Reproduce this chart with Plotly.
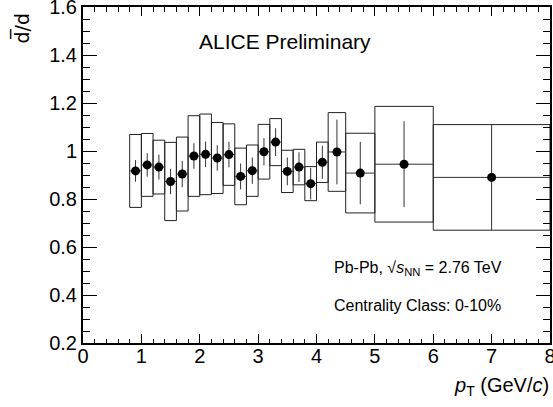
import plotly.graph_objects as go

# Bin edges (GeV/c)
pt_low = [0.8, 1.0, 1.2, 1.4, 1.6, 1.8, 2.0, 2.2, 2.4, 2.6, 2.8, 3.0, 3.2, 3.4, 3.6, 3.8, 4.0, 4.2, 4.5, 5.0, 6.0]
pt_high = [1.0, 1.2, 1.4, 1.6, 1.8, 2.0, 2.2, 2.4, 2.6, 2.8, 3.0, 3.2, 3.4, 3.6, 3.8, 4.0, 4.2, 4.5, 5.0, 6.0, 8.0]
# dbar/d ratio
ratio = [0.917, 0.942, 0.933, 0.873, 0.904, 0.979, 0.986, 0.971, 0.985, 0.894, 0.918, 0.997, 1.037, 0.915,
         0.933, 0.864, 0.953, 0.996, 0.908, 0.945, 0.890]
stat_err = [0.045, 0.049, 0.052, 0.053, 0.055, 0.053, 0.053, 0.053, 0.053, 0.054, 0.055, 0.057, 0.058, 0.058,
            0.062, 0.066, 0.069, 0.135, 0.130, 0.179, 0.220]
sys_err = [0.152, 0.131, 0.112, 0.163, 0.154, 0.168, 0.168, 0.148, 0.128, 0.118, 0.107, 0.114, 0.098, 0.088,
           0.074, 0.071, 0.084, 0.164, 0.166, 0.241, 0.220]

x_ticks = [0, 1, 2, 3, 4, 5, 6, 7, 8]
y_ticks = [0.2, 0.4, 0.6, 0.8, 1.0, 1.2, 1.4, 1.6]
x_range = [0, 8]
y_range = [0.2, 1.6]
EPS = 1e-6

pt_center = [(a + b) / 2 for a, b in zip(pt_low, pt_high)]
pt_half = [(b - a) / 2 for a, b in zip(pt_low, pt_high)]

# systematic boxes
bx, by = [], []
for lo, hi, v, s in zip(pt_low, pt_high, ratio, sys_err):
    bx += [lo, hi, hi, lo, lo, None]
    by += [v - s, v - s, v + s, v + s, v - s, None]

FONT = "Liberation Sans, Arial, sans-serif"

fig = go.Figure()
fig.add_trace(go.Scatter(x=bx, y=by, mode="lines", line=dict(color="#222222", width=1),
                         hoverinfo="skip", showlegend=False))
fig.add_trace(go.Scatter(
    x=pt_center, y=ratio, mode="markers",
    marker=dict(color="black", size=9, symbol="circle"),
    error_y=dict(type="data", array=stat_err, color="#333333", thickness=1, width=0),
    error_x=dict(type="data", array=pt_half, color="#333333", thickness=1, width=0),
    showlegend=False))
# invisible trace to hold the mirrored (top/right) tick axes
fig.add_trace(go.Scatter(x=[None], y=[None], xaxis="x2", yaxis="y2", showlegend=False, hoverinfo="skip"))

tick_common = dict(ticks="inside", tickcolor="black", tickwidth=1, showgrid=False, zeroline=False,
                   automargin=False)

xr = [x_range[0] - EPS, x_range[1] + EPS]
yr = [y_range[0] - EPS, y_range[1] + EPS]

xminor = dict(dtick=0.2, ticklen=4.5, tickcolor="black", tickwidth=1, ticks="inside", showgrid=False)
yminor = dict(dtick=0.05, ticklen=7, tickcolor="black", tickwidth=1, ticks="inside", showgrid=False)

fig.update_layout(
    xaxis=dict(range=xr, tickmode="array", tickvals=x_ticks, ticklen=9, minor=xminor,
               showline=True, linecolor="black", linewidth=2, mirror=True, ticklabeloverflow="allow",
               tickfont=dict(family=FONT, size=20, color="black"), ticklabelstandoff=-6, **tick_common),
    yaxis=dict(range=yr, tickmode="array", tickvals=y_ticks, ticklen=14, minor=yminor,
               showline=True, linecolor="black", linewidth=2, mirror=True, ticklabeloverflow="allow",
               tickfont=dict(family=FONT, size=20, color="black"), **tick_common),
    xaxis2=dict(range=xr, overlaying="x", side="top", anchor="y", tickmode="array", tickvals=x_ticks,
                ticklen=9, minor=xminor, showticklabels=False, showline=False, **tick_common),
    yaxis2=dict(range=yr, overlaying="y", side="right", anchor="x", tickmode="array", tickvals=y_ticks,
                ticklen=14, minor=yminor, showticklabels=False, showline=False, **tick_common),
)

W, H = 553, 407
L, R, T, B = 83, 3, 7, 64
pw, ph = W - L - R, H - T - B

def px(xp):
    return (xp - L) / pw

def py(yp):
    return (H - B - yp) / ph

annots = [
    dict(text="ALICE Preliminary", x=px(197), y=py(41.5), xanchor="left", yanchor="middle", size=21),
    dict(text="Pb-Pb, \u221a<i>s</i><sub>NN</sub> = 2.76 TeV", x=px(332), y=py(268), xanchor="left",
         yanchor="middle", size=16),
    dict(text="Centrality Class: 0-10%", x=px(332), y=py(305), xanchor="left", yanchor="middle", size=16),
    dict(text="<i>p</i><sub>T</sub> (GeV/<i>c</i>)", x=px(551), y=py(386), xanchor="right", yanchor="middle",
         size=20),
]
for a in annots:
    fig.add_annotation(text=a["text"], x=a["x"], y=a["y"], xref="paper", yref="paper",
                       xanchor=a["xanchor"], yanchor=a["yanchor"], showarrow=False,
                       font=dict(family=FONT, size=a["size"], color="black"))

fig.add_annotation(text="d\u0305/d", x=px(21), y=py(28.5), xref="paper", yref="paper",
                   xanchor="center", yanchor="middle", showarrow=False, textangle=-90,
                   font=dict(family="DejaVu Sans, " + FONT, size=19, color="black"))

fig.update_layout(width=W, height=H, margin=dict(l=L, r=R, t=T, b=B, pad=0, autoexpand=False),
                  paper_bgcolor="white", plot_bgcolor="white")

fig.write_html("out.html")
